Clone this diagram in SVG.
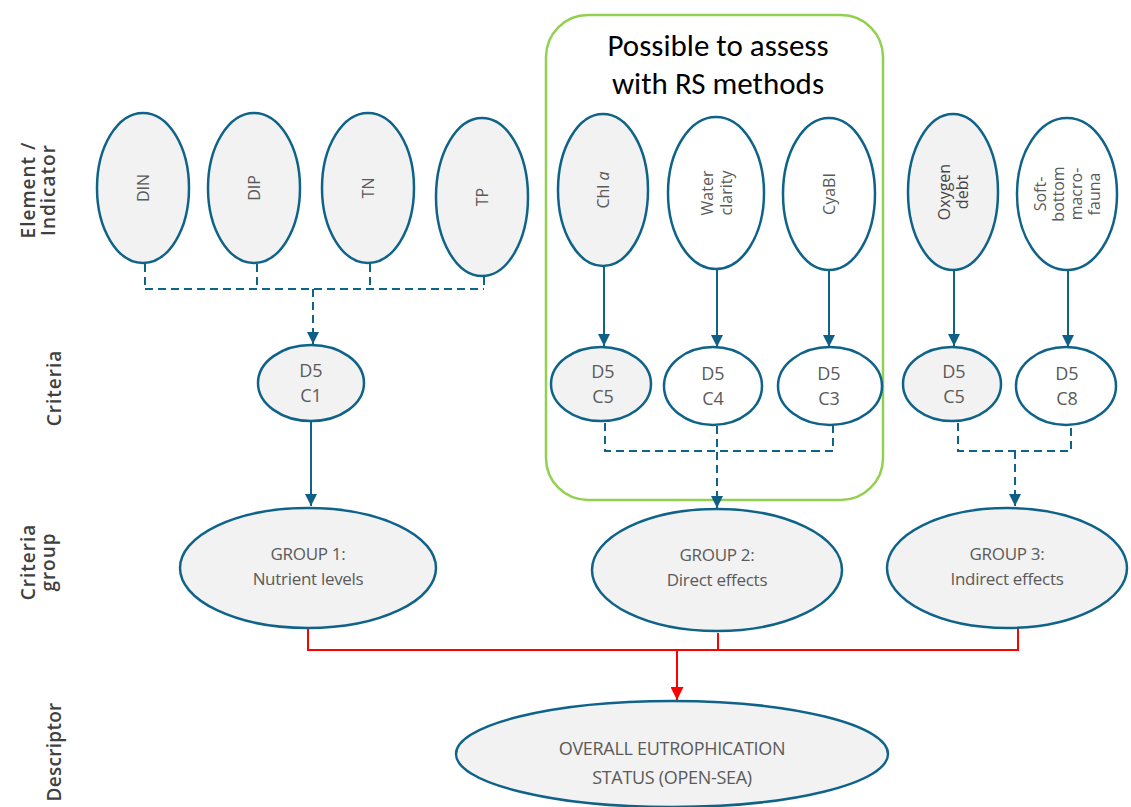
<svg xmlns="http://www.w3.org/2000/svg" width="1131" height="807" viewBox="0 0 1131 807">
<defs>
<marker id="ab" viewBox="0 0 10 10" refX="10" refY="5" markerWidth="12" markerHeight="12" markerUnits="userSpaceOnUse" orient="auto"><path d="M0,0 L10,5 L0,10 z" fill="#0f5f86"/></marker>
<marker id="ar" viewBox="0 0 10 10" refX="10" refY="5" markerWidth="13" markerHeight="13" markerUnits="userSpaceOnUse" orient="auto"><path d="M0,0 L10,5 L0,10 z" fill="#ff0000"/></marker>
</defs>
<style>
.g{fill:#f2f2f2;stroke:#0f6389;stroke-width:2.5}
.w{fill:#ffffff;stroke:#0f6389;stroke-width:2.5}
.t{font-family:"Open Sans","Liberation Sans",sans-serif;font-size:16px;fill:#5a5a5a;text-anchor:middle}
.t2{font-family:"Open Sans","Liberation Sans",sans-serif;font-size:17px;fill:#5a5a5a;text-anchor:middle;letter-spacing:-0.3px}
.c{font-family:"Open Sans","Liberation Sans",sans-serif;font-size:18px;fill:#5a5a5a;text-anchor:middle}
.lab{font-family:"Open Sans","Liberation Sans",sans-serif;font-size:19px;font-weight:600;fill:#404040;text-anchor:middle;letter-spacing:1px}
.s{stroke:#0f6389;stroke-width:2;fill:none}
.d{stroke:#0f6389;stroke-width:2;fill:none;stroke-dasharray:8 5}
.r{stroke:#ff0000;stroke-width:2;fill:none}
</style>
<rect width="1131" height="807" fill="#ffffff"/>

<g id="labels">
<text class="lab" transform="translate(38,190) rotate(-90)"><tspan x="0" y="-3">Element /</tspan><tspan x="0" y="17">Indicator</tspan></text>
<text class="lab" transform="translate(54,388) rotate(-90)" x="0" y="7">Criteria</text>
<text class="lab" transform="translate(38,562) rotate(-90)"><tspan x="0" y="-3">Criteria</tspan><tspan x="0" y="17">group</tspan></text>
<text class="lab" style="letter-spacing:0.3px" transform="translate(54,752) rotate(-90)" x="0" y="7">Descriptor</text>
</g>

<g id="rs-box">
<rect x="546" y="15" width="337" height="485" rx="42" ry="42" fill="none" stroke="#92d050" stroke-width="2.5"/>
<text x="718" y="56" font-family="Carlito,'Open Sans','Liberation Sans',sans-serif" font-size="31" text-anchor="middle" fill="#000">Possible to assess</text>
<text x="718" y="94" font-family="Carlito,'Open Sans','Liberation Sans',sans-serif" font-size="31" text-anchor="middle" fill="#000">with RS methods</text>
</g>

<g id="connectors">
<path class="d" d="M145,264 V289 M257,264 V289 M370,264 V289 M484,277 V289 M145,289 H484"/>
<path class="d" d="M313,289 V344" marker-end="url(#ab)"/>
<path class="s" d="M311,421 V506" marker-end="url(#ab)"/>
<path class="s" d="M604,266 V346" marker-end="url(#ab)"/>
<path class="s" d="M717,268 V347" marker-end="url(#ab)"/>
<path class="s" d="M829,270 V347" marker-end="url(#ab)"/>
<path class="s" d="M954,270 V346" marker-end="url(#ab)"/>
<path class="s" d="M1068,270 V347" marker-end="url(#ab)"/>
<path class="d" d="M605,423 V451 H817 M833,425 V451 H817"/>
<path class="d" d="M717,426 V508" marker-end="url(#ab)"/>
<path class="d" d="M958,423 V451 H1071 V425"/>
<path class="d" d="M1015,451 V506" marker-end="url(#ab)"/>
<path class="r" d="M308,629 V650 H1018 V628 M718,633 V650"/>
<path class="r" d="M677,650 V700" marker-end="url(#ar)"/>
</g>

<g id="n-din"><ellipse class="g" cx="143" cy="188" rx="46" ry="75"/><text class="t" transform="translate(143,188) rotate(-90)" x="0" y="6">DIN</text></g>
<g id="n-dip"><ellipse class="g" cx="254" cy="188" rx="46" ry="75"/><text class="t" transform="translate(254,188) rotate(-90)" x="0" y="6">DIP</text></g>
<g id="n-tn"><ellipse class="g" cx="368" cy="188" rx="46" ry="75"/><text class="t" transform="translate(368,188) rotate(-90)" x="0" y="6">TN</text></g>
<g id="n-tp"><ellipse class="g" cx="482" cy="197" rx="46" ry="79"/><text class="t" transform="translate(482,197) rotate(-90)" x="0" y="6">TP</text></g>

<g id="n-chla"><ellipse class="g" cx="603" cy="190" rx="45" ry="76"/><text class="t" transform="translate(603,190) rotate(-90)" x="0" y="6">Chl <tspan font-style="italic">a</tspan></text></g>
<g id="n-water"><ellipse class="w" cx="716" cy="193" rx="48" ry="76"/><text class="t" transform="translate(716,193) rotate(-90)"><tspan x="0" y="-3">Water</tspan><tspan x="0" y="16">clarity</tspan></text></g>
<g id="n-cyabi"><ellipse class="w" cx="829" cy="194" rx="46" ry="76"/><text class="t" transform="translate(829,194) rotate(-90)" x="0" y="6">CyaBI</text></g>
<g id="n-oxy"><ellipse class="g" cx="953" cy="192" rx="45" ry="78"/><text class="t" style="fill:#454545" transform="translate(953,192) rotate(-90)"><tspan x="0" y="-3">Oxygen</tspan><tspan x="0" y="15">debt</tspan></text></g>
<g id="n-soft"><ellipse class="w" cx="1067" cy="194" rx="50" ry="76"/><text class="t" transform="translate(1067,194) rotate(-90)"><tspan x="0" y="-21">Soft-</tspan><tspan x="0" y="-3">bottom</tspan><tspan x="0" y="15">macro-</tspan><tspan x="0" y="33">fauna</tspan></text></g>

<g id="n-c1"><ellipse class="g" cx="311" cy="383" rx="53" ry="38"/><text class="c" x="311" y="377">D5</text><text class="c" x="311" y="402">C1</text></g>
<g id="n-c5a"><ellipse class="g" cx="601" cy="384" rx="50" ry="37"/><text class="c" x="603" y="378">D5</text><text class="c" x="603" y="403">C5</text></g>
<g id="n-c4"><ellipse class="w" cx="713" cy="386" rx="49" ry="39"/><text class="c" x="713" y="380">D5</text><text class="c" x="713" y="405">C4</text></g>
<g id="n-c3"><ellipse class="w" cx="830" cy="386" rx="52" ry="39"/><text class="c" x="829" y="380">D5</text><text class="c" x="829" y="405">C3</text></g>
<g id="n-c5b"><ellipse class="g" cx="952" cy="384" rx="49" ry="37"/><text class="c" x="954" y="378">D5</text><text class="c" x="954" y="403">C5</text></g>
<g id="n-c8"><ellipse class="w" cx="1066" cy="386" rx="50" ry="39"/><text class="c" x="1067" y="380">D5</text><text class="c" x="1067" y="405">C8</text></g>

<g id="n-g1"><ellipse class="g" cx="308" cy="568" rx="128" ry="60"/><text class="t2" x="308" y="560">GROUP 1:</text><text class="t2" x="308" y="585">Nutrient levels</text></g>
<g id="n-g2"><ellipse class="g" cx="717" cy="570" rx="125" ry="61"/><text class="t2" x="717" y="561">GROUP 2:</text><text class="t2" x="717" y="586">Direct effects</text></g>
<g id="n-g3"><ellipse class="g" cx="1007" cy="568" rx="120" ry="60"/><text class="t2" x="1007" y="560">GROUP 3:</text><text class="t2" x="1007" y="585">Indirect effects</text></g>

<g id="n-overall"><ellipse class="g" cx="672" cy="754" rx="216" ry="53"/><text class="t2" style="font-size:18px" x="672" y="755">OVERALL EUTROPHICATION</text><text class="t2" style="font-size:18px" x="672" y="784">STATUS (OPEN-SEA)</text></g>
</svg>
